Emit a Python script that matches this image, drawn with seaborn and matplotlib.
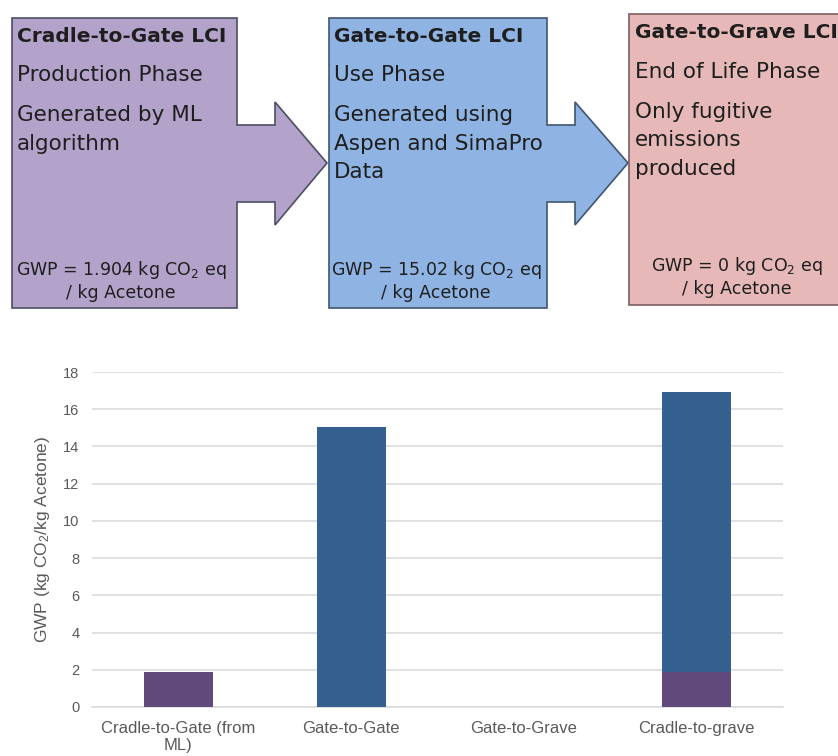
import matplotlib
matplotlib.use("Agg")
import matplotlib.pyplot as plt
from matplotlib.patches import Polygon
import pandas as pd
import seaborn as sns

# chart data
categories = ["Cradle-to-Gate (from\nML)", "Gate-to-Gate", "Gate-to-Grave", "Cradle-to-grave"]
cradle_to_gate = [1.904, 0, 0, 1.904]
gate_to_gate = [0, 15.02, 0, 15.02]
gate_to_grave = [0, 0, 0, 0]
y_ticks = [0, 2, 4, 6, 8, 10, 12, 14, 16, 18]

# diagram text
box_titles = ["Cradle-to-Gate LCI", "Gate-to-Gate LCI", "Gate-to-Grave LCI"]
box_lines = [
    ["Production Phase", "Generated by ML\nalgorithm"],
    ["Use Phase", "Generated using\nAspen and SimaPro\nData"],
    ["End of Life Phase", "Only fugitive\nemissions\nproduced"],
]
box_gwp = ["1.904", "15.02", "0"]

sns.set_theme(style="white")
plt.rcParams["mathtext.default"] = "regular"

fig = plt.figure(figsize=(8.38, 7.56), dpi=100)

# ---- process diagram (pixel coordinates) ----
dg = fig.add_axes([0, 0, 1, 1])
dg.set_xlim(0, 838)
dg.set_ylim(756, 0)
dg.axis("off")

box1 = [(12, 18), (237, 18), (237, 125), (275, 125), (275, 102), (327, 163),
        (275, 225), (275, 202), (237, 202), (237, 308), (12, 308)]
box2 = [(329, 18), (547, 18), (547, 125), (575, 125), (575, 102), (628, 163),
        (575, 225), (575, 202), (547, 202), (547, 308), (329, 308)]
box3 = [(629, 14), (845, 14), (845, 305), (629, 305)]
fills = ["#b3a3cb", "#8fb4e3", "#e6b9b8"]
edges = ["#4b4e66", "#3f5670", "#7a5f60"]
for pts, fc, ec in zip([box1, box2, box3], fills, edges):
    dg.add_patch(Polygon(pts, closed=True, facecolor=fc, edgecolor=ec, lw=1.2))

txt_color = "#1e1e1e"
lefts = [17, 334, 635]
title_y = [37, 37, 33]
line1_y = [75, 75, 72]
line2_y = [115, 115, 112]
gwp_cx = [121, 436, 737]
gwp_y = [270, 270, 266]
for i in range(3):
    dg.text(lefts[i], title_y[i], box_titles[i], fontsize=14.5, fontweight="bold",
            color=txt_color, va="center", ha="left", family="DejaVu Sans")
    dg.text(lefts[i], line1_y[i], box_lines[i][0], fontsize=15.5,
            color=txt_color, va="center", ha="left", family="DejaVu Sans")
    for k, line in enumerate(box_lines[i][1].split("\n")):
        dg.text(lefts[i], line2_y[i] + 28.5 * k, line, fontsize=15.5,
                color=txt_color, va="center", ha="left", family="DejaVu Sans")
    dg.text(gwp_cx[i], gwp_y[i], f"GWP = {box_gwp[i]} kg CO$_2$ eq",
            fontsize=12.5, color=txt_color, va="center", ha="center",
            family="DejaVu Sans")
    dg.text(gwp_cx[i], gwp_y[i] + 23, "/ kg Acetone",
            fontsize=12.5, color=txt_color, va="center", ha="center",
            family="DejaVu Sans")

# ---- stacked bar chart ----
ax = fig.add_axes([92 / 838, (756 - 707) / 756, 691 / 838, 335 / 756])
df = pd.DataFrame({
    "category": categories,
    "cradle": cradle_to_gate,
    "gate": gate_to_gate,
    "grave": gate_to_grave,
})
df["total"] = df["cradle"] + df["gate"] + df["grave"]

sns.barplot(data=df, x="category", y="total", color="#355f8f", width=0.4,
            saturation=1, linewidth=0, ax=ax, zorder=3)
sns.barplot(data=df, x="category", y="cradle", color="#604a7b", width=0.4,
            saturation=1, linewidth=0, ax=ax, zorder=4)

ax.set_xlim(-0.5, 3.5)
ax.set_ylim(0, 18)
ax.set_yticks(y_ticks)
ax.yaxis.grid(True, color="#d9d9d9", lw=1.1, zorder=0)
ax.set_axisbelow(True)
for s in ["top", "right", "left"]:
    ax.spines[s].set_visible(False)
ax.spines["bottom"].set_color("#d9d9d9")
ax.spines["bottom"].set_linewidth(1.1)
ax.tick_params(axis="both", length=0, colors="#595959")
ax.tick_params(axis="x", pad=10, labelsize=12)
ax.tick_params(axis="y", pad=9, labelsize=10.5)
for lab in ax.get_xticklabels() + ax.get_yticklabels():
    lab.set_family("Liberation Sans")
    lab.set_linespacing(1.2)
ax.set_xlabel("")
ax.set_ylabel("GWP (kg CO$_2$/kg Acetone)", fontsize=12.5, color="#595959",
              family="Liberation Sans", labelpad=8)

fig.savefig("out.png", dpi=100)
